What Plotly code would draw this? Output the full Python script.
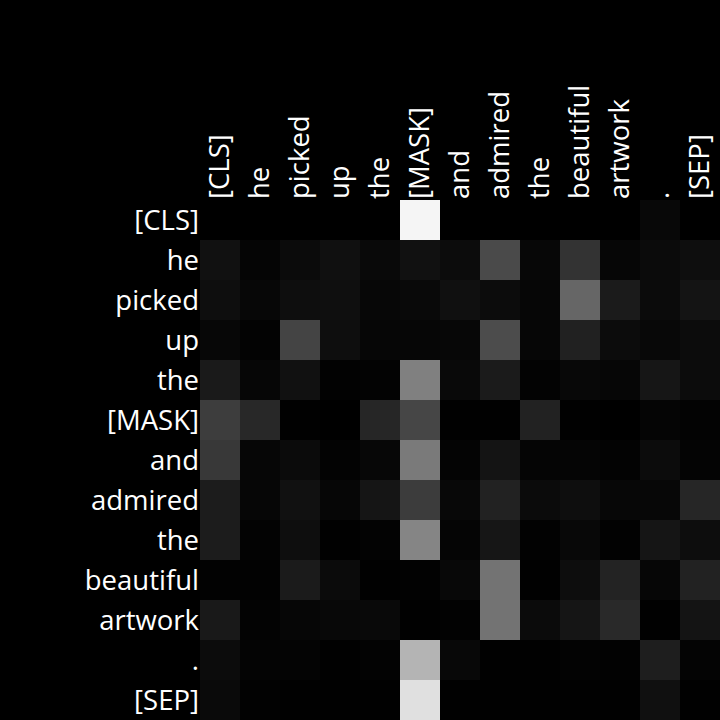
import plotly.graph_objects as go

tokens = ["[CLS]", "he", "picked", "up", "the", "[MASK]", "and", "admired",
          "the", "beautiful", "artwork", ".", "[SEP]"]

# attention weights (gray level / 255), rows = query, cols = key
attn_raw = [
    [0x00, 0x00, 0x00, 0x00, 0x00, 0xF5, 0x00, 0x00, 0x00, 0x00, 0x00, 0x08, 0x00],
    [0x11, 0x05, 0x0B, 0x10, 0x09, 0x11, 0x0C, 0x4A, 0x07, 0x33, 0x06, 0x0B, 0x0E],
    [0x0E, 0x07, 0x0E, 0x0F, 0x07, 0x09, 0x10, 0x0C, 0x06, 0x66, 0x1B, 0x0B, 0x14],
    [0x07, 0x03, 0x44, 0x0E, 0x06, 0x06, 0x07, 0x4C, 0x06, 0x21, 0x0C, 0x08, 0x0C],
    [0x1A, 0x06, 0x11, 0x02, 0x03, 0x80, 0x09, 0x1B, 0x03, 0x08, 0x06, 0x16, 0x0C],
    [0x3D, 0x28, 0x01, 0x00, 0x26, 0x46, 0x01, 0x01, 0x22, 0x01, 0x00, 0x05, 0x03],
    [0x38, 0x06, 0x0B, 0x03, 0x07, 0x7A, 0x04, 0x14, 0x05, 0x05, 0x03, 0x0C, 0x04],
    [0x1C, 0x06, 0x11, 0x06, 0x15, 0x3C, 0x08, 0x22, 0x0B, 0x0E, 0x07, 0x07, 0x26],
    [0x1C, 0x03, 0x0E, 0x01, 0x03, 0x85, 0x05, 0x16, 0x02, 0x08, 0x02, 0x15, 0x0D],
    [0x02, 0x02, 0x1B, 0x0B, 0x01, 0x02, 0x08, 0x73, 0x01, 0x0D, 0x23, 0x06, 0x22],
    [0x19, 0x03, 0x06, 0x08, 0x09, 0x01, 0x02, 0x73, 0x0B, 0x15, 0x29, 0x01, 0x14],
    [0x0C, 0x04, 0x04, 0x01, 0x03, 0xB4, 0x08, 0x01, 0x01, 0x03, 0x02, 0x1E, 0x04],
    [0x0A, 0x02, 0x01, 0x01, 0x01, 0xE0, 0x01, 0x01, 0x01, 0x01, 0x01, 0x10, 0x01],
]
attention = [[round(v / 255, 4) for v in row] for row in attn_raw]

idx = list(range(len(tokens)))

fig = go.Figure(
    go.Heatmap(
        z=attention,
        x=idx,
        y=idx,
        colorscale=[[0, "rgb(0,0,0)"], [1, "rgb(255,255,255)"]],
        zmin=0,
        zmax=1,
        showscale=False,
        xgap=0,
        ygap=0,
        hoverinfo="skip",
    )
)

fig.update_layout(
    width=720,
    height=720,
    margin=dict(l=200, r=0, t=200, b=0),
    paper_bgcolor="black",
    plot_bgcolor="black",
    font=dict(family="Open Sans", size=27.5, color="white"),
    xaxis=dict(
        side="top",
        tickmode="array",
        tickvals=idx,
        ticktext=tokens,
        tickangle=-90,
        showgrid=False,
        zeroline=False,
        ticks="",
        range=[-0.5, 12.5],
    ),
    yaxis=dict(
        tickmode="array",
        tickvals=idx,
        ticktext=tokens,
        autorange=False,
        range=[12.5, -0.5],
        showgrid=False,
        zeroline=False,
        ticks="",
    ),
)

fig.write_html("out.html")
